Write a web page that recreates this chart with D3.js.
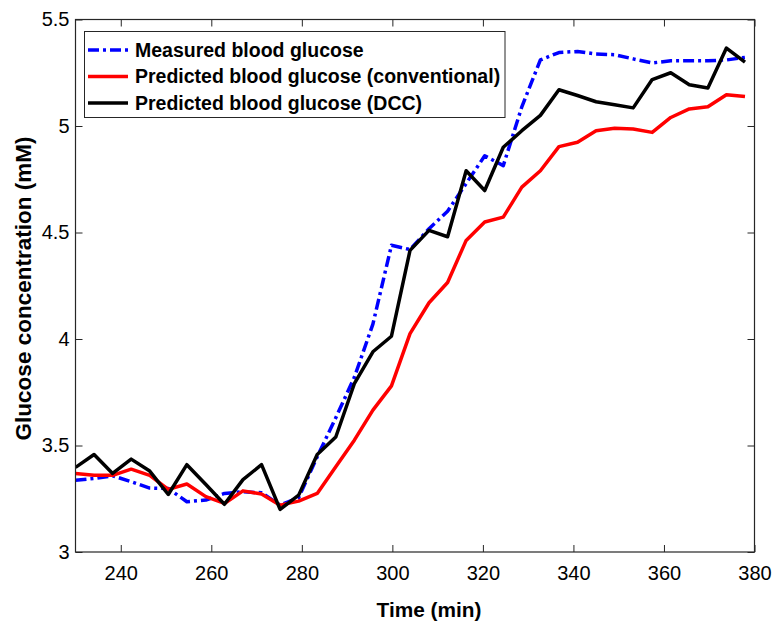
<!DOCTYPE html>
<html>
<head>
<meta charset="utf-8">
<script src="https://cdn.jsdelivr.net/npm/d3@7"></script>
<style>
  body { margin: 0; background: #fff; }
  svg { display: block; font-family: "Liberation Sans", Arial, sans-serif; }
</style>
</head>
<body>
<svg id="chart" width="778" height="624"></svg>
<script>
// time (min)
const times = [230.0, 234.1, 238.2, 242.3, 246.4, 250.5, 254.6, 258.8, 262.9, 267.0,
  271.1, 275.2, 279.3, 283.4, 287.5, 291.6, 295.7, 299.8, 303.9, 308.1,
  312.2, 316.3, 320.4, 324.5, 328.6, 332.7, 336.8, 340.9, 345.0, 349.1,
  353.2, 357.4, 361.5, 365.6, 369.7, 373.8, 377.9];

const measured = [3.337, 3.345, 3.358, 3.33, 3.30, 3.298, 3.236, 3.244, 3.275, 3.283,
  3.278, 3.22, 3.255, 3.447, 3.63, 3.82, 4.07, 4.44, 4.42, 4.518,
  4.60, 4.73, 4.86, 4.814, 5.09, 5.31, 5.345, 5.35, 5.338, 5.335,
  5.315, 5.296, 5.306, 5.306, 5.306, 5.31, 5.322];

const conventional = [3.369, 3.36, 3.36, 3.389, 3.36, 3.294, 3.319, 3.26, 3.228, 3.287,
  3.272, 3.22, 3.239, 3.275, 3.40, 3.525, 3.666, 3.78, 4.025, 4.17,
  4.265, 4.463, 4.549, 4.572, 4.713, 4.79, 4.903, 4.924, 4.978, 4.989,
  4.986, 4.97, 5.04, 5.08, 5.09, 5.147, 5.138];

const dcc = [3.397, 3.458, 3.369, 3.436, 3.38, 3.27, 3.41, 3.317, 3.224, 3.34,
  3.41, 3.20, 3.267, 3.458, 3.54, 3.79, 3.94, 4.013, 4.416, 4.51,
  4.48, 4.79, 4.697, 4.90, 4.978, 5.05, 5.17, 5.143, 5.114, 5.10,
  5.085, 5.218, 5.25, 5.194, 5.178, 5.366, 5.30];

const xTicks = [240, 260, 280, 300, 320, 340, 360, 380];
const yTicks = [3, 3.5, 4, 4.5, 5, 5.5];

const seriesNames = ["Measured blood glucose", "Predicted blood glucose (conventional)", "Predicted blood glucose (DCC)"];

const series = [
  {name: seriesNames[0], values: measured, color: "#0000ff", dash: "11,4,3,4"},
  {name: seriesNames[1], values: conventional, color: "#ff0000", dash: null},
  {name: seriesNames[2], values: dcc, color: "#000000", dash: null}
];

const plotLeft = 75.5, plotRight = 754.5, plotTop = 19.5, plotBottom = 552;

const svg = d3.select("#chart");

const x = d3.scaleLinear().domain([230, 380]).range([plotLeft, plotRight]);
const y = d3.scaleLinear().domain([3, 5.5]).range([plotBottom, plotTop]);

const axisColor = "#262626";

// clip the data to the axes box
svg.append("clipPath").attr("id", "plot-clip")
  .append("rect")
  .attr("x", plotLeft).attr("y", plotTop)
  .attr("width", plotRight - plotLeft).attr("height", plotBottom - plotTop);

const line = d3.line()
  .x((d, i) => x(times[i]))
  .y(d => y(d));

const lines = svg.append("g").attr("clip-path", "url(#plot-clip)");

lines.selectAll("path")
  .data(series)
  .join("path")
  .attr("fill", "none")
  .attr("stroke", d => d.color)
  .attr("stroke-width", 3.5)
  .attr("stroke-linejoin", "round")
  .attr("stroke-dasharray", d => d.dash)
  .attr("d", d => line(d.values));

// axes, MATLAB style box with inward ticks
const tickLen = 7;

svg.append("g")
  .attr("transform", `translate(0,${plotBottom})`)
  .call(d3.axisBottom(x).tickValues(xTicks).tickSizeInner(-tickLen).tickSizeOuter(0).tickPadding(14))
  .call(g => g.select(".domain").remove());

svg.append("g")
  .attr("transform", `translate(0,${plotTop})`)
  .call(d3.axisTop(x).tickValues(xTicks).tickSizeInner(-tickLen).tickSizeOuter(0).tickFormat(""))
  .call(g => g.select(".domain").remove());

svg.append("g")
  .attr("transform", `translate(${plotLeft},0)`)
  .call(d3.axisLeft(y).tickValues(yTicks).tickSizeInner(-tickLen).tickSizeOuter(0).tickPadding(6).tickFormat(d3.format("")))
  .call(g => g.select(".domain").remove());

svg.append("g")
  .attr("transform", `translate(${plotRight},0)`)
  .call(d3.axisRight(y).tickValues(yTicks).tickSizeInner(-tickLen).tickSizeOuter(0).tickFormat(""))
  .call(g => g.select(".domain").remove());

svg.selectAll(".tick line").attr("stroke", axisColor);
svg.selectAll(".tick text")
  .attr("fill", "#000")
  .style("font-size", "20px")
  .style("font-family", "'Liberation Sans', Arial, sans-serif");

svg.append("rect")
  .attr("x", plotLeft).attr("y", plotTop)
  .attr("width", plotRight - plotLeft).attr("height", plotBottom - plotTop)
  .attr("fill", "none")
  .attr("stroke", axisColor)
  .attr("stroke-width", 1.2);

// axis titles
svg.append("text")
  .attr("x", 429)
  .attr("y", 617)
  .attr("text-anchor", "middle")
  .attr("font-weight", "bold")
  .attr("font-size", 20.8)
  .text("Time (min)");

svg.append("text")
  .attr("transform", `translate(31,${288.5}) rotate(-90)`)
  .attr("text-anchor", "middle")
  .attr("font-weight", "bold")
  .attr("font-size", 22.5)
  .text("Glucose concentration (mM)");

// legend
const legend = svg.append("g");
legend.append("rect")
  .attr("x", 84.5).attr("y", 31.5)
  .attr("width", 420.5).attr("height", 86)
  .attr("fill", "#fff")
  .attr("stroke", axisColor)
  .attr("stroke-width", 1);

const rows = legend.selectAll("g.row")
  .data(series)
  .join("g")
  .attr("class", "row")
  .attr("transform", (d, i) => `translate(0,${50 + i * 26.5})`);

rows.append("line")
  .attr("x1", 88).attr("x2", 128)
  .attr("stroke", d => d.color)
  .attr("stroke-width", 3.5)
  .attr("stroke-dasharray", d => d.dash);

rows.append("text")
  .attr("x", 135)
  .attr("dy", "0.35em")
  .attr("font-weight", "bold")
  .attr("font-size", 19.5)
  .text(d => d.name);
</script>
</body>
</html>
